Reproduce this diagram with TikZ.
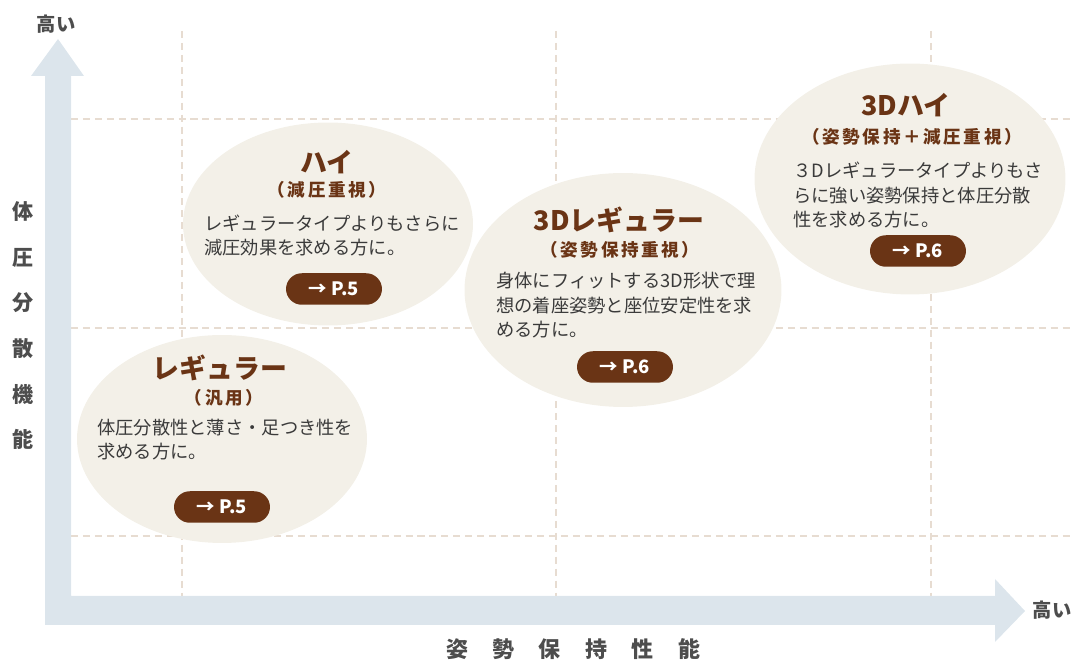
\documentclass[tikz,border=0pt]{standalone}
\usepackage{fontspec}
\setmainfont{Noto Sans CJK JP}
\usetikzlibrary{shapes.geometric}
\definecolor{chbrown}{RGB}{106,52,21}
\definecolor{chcream}{RGB}{243,240,232}
\definecolor{chaxis}{RGB}{220,229,236}
\definecolor{chgrid}{RGB}{231,220,209}
\definecolor{chtext}{RGB}{58,58,58}
\definecolor{chlabel}{RGB}{77,77,77}

\begin{document}
\begin{tikzpicture}[x=0.02cm,y=-0.02cm,
  bubble/.style={ellipse,fill=chcream,inner sep=0pt},
  ttl/.style={font=\fontsize{15.3}{18}\selectfont\bfseries,text=chbrown,inner sep=0pt},
  subttl/.style={font=\fontsize{10}{12}\selectfont\bfseries\addfontfeature{LetterSpace=15},text=chbrown,inner sep=0pt},
  body/.style={font=\fontsize{10.4}{14.2}\selectfont,text=chtext,align=left,anchor=base west,inner sep=0pt},
  pagebtn/.style={fill=chbrown,text=white,rounded corners=9pt,minimum width=1.92cm,minimum height=0.63cm,inner sep=0pt,font=\fontsize{10.5}{12}\selectfont\bfseries},
  axlbl/.style={font=\fontsize{11}{13}\selectfont\bfseries,text=chlabel,inner sep=0pt},
  gridline/.style={chgrid,line width=1.1pt,dash pattern=on 4pt off 2.8pt}
]
\useasboundingbox (0,0) rectangle (1073,661);

% grid
\foreach \gx in {182,556,931} \draw[gridline] (\gx,31) -- (\gx,596);
\foreach \gy in {119,328,536} \draw[gridline] (71,\gy) -- (1073,\gy);

% axes
\fill[chaxis] (45,625) -- (45,76) -- (31,76) -- (58,39) -- (84,76) -- (71,76)
  -- (71,596) -- (995,596) -- (995,579) -- (1025,611) -- (995,642) -- (995,625) -- cycle;
\node[axlbl] (ytop) at (56,24) {高い};
\node[axlbl] (xend) at (1052,610) {高い};
\foreach \ch [count=\i from 0] in {体,圧,分,散,機,能}
  \node[axlbl,font=\fontsize{12}{14}\selectfont\bfseries] (ylbl\i) at (23,212+45.5*\i) {\ch};
\foreach \ch [count=\i from 0] in {姿,勢,保,持,性,能}
  \node[axlbl,font=\fontsize{12.5}{14}\selectfont\bfseries] (xlbl\i) at (457+46.4*\i,649) {\ch};

% regular
\node[bubble,minimum width=5.8cm,minimum height=4.16cm] (reg) at (222,439) {};
\node[ttl] (regttl) at (220,368) {レギュラー};
\node[subttl] (regsub) at (224,398) {（汎用）};
\node[body] (regbody) at (97,459) {体圧分散性と薄さ・足つき性を\\求める方に。};
\node[pagebtn] (regbtn) at (222,507) {→ P.5};

% high
\node[bubble,minimum width=5.8cm,minimum height=4.06cm] (hi) at (328,224) {};
\node[ttl] (hittl) at (327,162) {ハイ};
\node[subttl] (hisub) at (327,190) {（減圧重視）};
\node[body] (hibody) at (204,255) {レギュラータイプよりもさらに\\減圧効果を求める方に。};
\node[pagebtn] (hibtn) at (334,289) {→ P.5};

% 3D regular
\node[bubble,minimum width=6.34cm,minimum height=4.68cm] (tdreg) at (623,290) {};
\node[ttl] (tdregttl) at (619,220) {3Dレギュラー};
\node[subttl] (tdregsub) at (620,250) {（姿勢保持重視）};
\node[body] (tdregbody) at (496,337) {身体にフィットする3D形状で理\\想の着座姿勢と座位安定性を求\\める方に。};
\node[pagebtn] (tdregbtn) at (625,367) {→ P.6};

% 3D high
\node[bubble,minimum width=6.22cm,minimum height=4.62cm] (tdhi) at (910,179) {};
\node[ttl] (tdhittl) at (906,105) {3Dハイ};
\node[subttl] (tdhisub) at (912,137) {（姿勢保持＋減圧重視）};
\node[body] (tdhibody) at (793,227) {３Dレギュラータイプよりもさ\\らに強い姿勢保持と体圧分散\\性を求める方に。};
\node[pagebtn] (tdhibtn) at (918,251) {→ P.6};
\end{tikzpicture}
\end{document}
